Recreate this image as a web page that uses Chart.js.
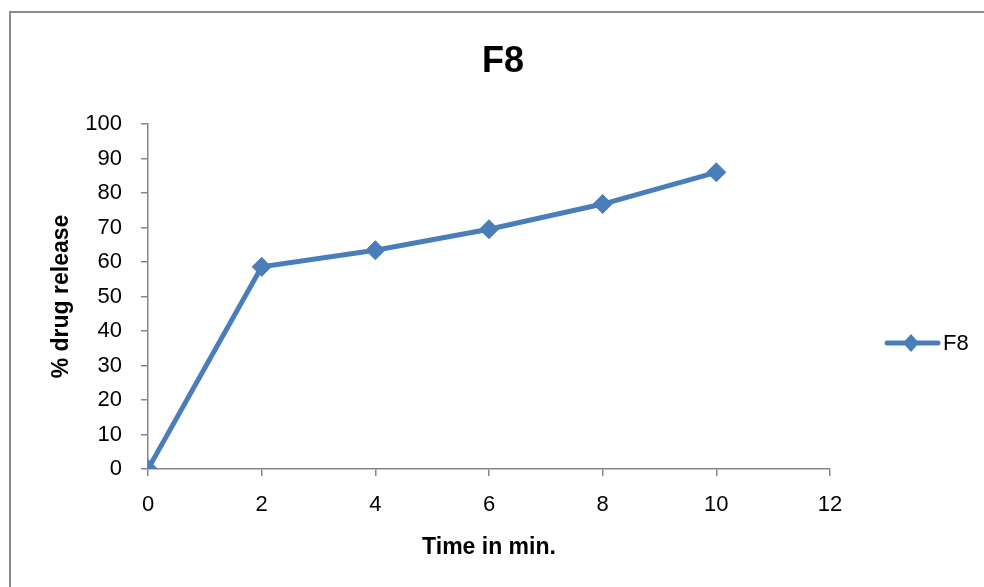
<!DOCTYPE html>
<html>
<head>
<meta charset="utf-8">
<title>F8</title>
<script src="https://cdn.jsdelivr.net/npm/chart.js@4/dist/chart.umd.min.js"></script>
<style>
  html, body { margin: 0; padding: 0; background: #fff; }
  #wrap { position: relative; width: 984px; height: 587px; }
</style>
</head>
<body>
<div id="wrap"><canvas id="c" width="984" height="587"></canvas></div>
<script>
// Time points (min) and cumulative % drug release for formulation F8
const timeMin = [0, 2, 4, 6, 8, 10];
const releaseF8 = [0, 58.6, 63.4, 69.5, 76.8, 86.0];
const seriesName = 'F8';
const chartTitle = 'F8';
const xTitle = 'Time in min.';
const yTitle = '% drug release';

const BLUE = '#4a7ebb';
const AXIS = '#868686';
const FONT = "'Liberation Sans', Arial, sans-serif";

// Outer frame, chart title and the right-hand legend entry
const decorations = {
  id: 'decorations',
  beforeDraw(chart) {
    const ctx = chart.ctx;
    ctx.save();
    ctx.fillStyle = '#fff';
    ctx.fillRect(0, 0, chart.width, chart.height);
    ctx.strokeStyle = '#8c8c8c';
    ctx.lineWidth = 2;
    ctx.strokeRect(10, 12, chart.width + 20, chart.height + 20);
    ctx.restore();
  },
  afterDraw(chart) {
    const ctx = chart.ctx;
    const ds = chart.data.datasets[0];
    ctx.save();
    ctx.fillStyle = '#000';
    ctx.font = 'bold 36px ' + FONT;
    ctx.textAlign = 'center';
    ctx.textBaseline = 'middle';
    ctx.fillText(chartTitle, 503, 62);

    // legend
    const ly = 343;
    ctx.strokeStyle = ds.borderColor;
    ctx.lineWidth = 5;
    ctx.lineCap = 'round';
    ctx.beginPath();
    ctx.moveTo(887, ly);
    ctx.lineTo(938, ly);
    ctx.stroke();
    ctx.fillStyle = ds.pointBackgroundColor;
    ctx.beginPath();
    ctx.moveTo(911 - 8, ly);
    ctx.lineTo(911, ly - 9);
    ctx.lineTo(911 + 8, ly);
    ctx.lineTo(911, ly + 9);
    ctx.closePath();
    ctx.fill();
    ctx.fillStyle = '#000';
    ctx.font = '22px ' + FONT;
    ctx.textAlign = 'left';
    ctx.fillText(ds.label, 943, ly + 1);
    ctx.restore();
  }
};

new Chart(document.getElementById('c'), {
  type: 'line',
  data: {
    datasets: [{
      label: seriesName,
      data: timeMin.map((t, i) => ({ x: t, y: releaseF8[i] })),
      borderColor: BLUE,
      backgroundColor: BLUE,
      borderWidth: 5,
      pointStyle: 'rectRot',
      pointRadius: 9.5,
      pointHoverRadius: 9.5,
      pointBackgroundColor: BLUE,
      pointBorderColor: BLUE,
      pointBorderWidth: 1,
      tension: 0,
      fill: false
    }]
  },
  options: {
    responsive: false,
    animation: false,
    events: [],
    layout: { padding: { left: 48, top: 124, right: 154, bottom: 17 } },
    plugins: {
      legend: { display: false },
      title: { display: false },
      tooltip: { enabled: false }
    },
    scales: {
      x: {
        type: 'linear',
        min: 0,
        max: 12,
        ticks: {
          stepSize: 2,
          color: '#000',
          font: { family: FONT, size: 22 },
          padding: 16
        },
        grid: {
          display: true,
          drawOnChartArea: false,
          drawTicks: true,
          tickLength: 7,
          color: AXIS,
          lineWidth: 1.5
        },
        border: { display: true, color: AXIS, width: 1.5 },
        title: {
          display: true,
          text: xTitle,
          color: '#000',
          font: { family: FONT, size: 23, weight: 'bold' },
          padding: { top: 0, bottom: 9 }
        },
        afterFit(scale) { scale.height = 101; }
      },
      y: {
        min: 0,
        max: 100,
        ticks: {
          stepSize: 10,
          color: '#000',
          font: { family: FONT, size: 22 },
          padding: 19
        },
        grid: {
          display: true,
          drawOnChartArea: false,
          drawTicks: true,
          tickLength: 7,
          color: AXIS,
          lineWidth: 1.5
        },
        border: { display: true, color: AXIS, width: 1.5 },
        title: {
          display: true,
          text: yTitle,
          color: '#000',
          font: { family: FONT, size: 23, weight: 'bold' },
          padding: { top: 0, bottom: 0 }
        },
        afterFit(scale) { scale.width = 100; }
      }
    }
  },
  plugins: [decorations]
});
</script>
</body>
</html>
